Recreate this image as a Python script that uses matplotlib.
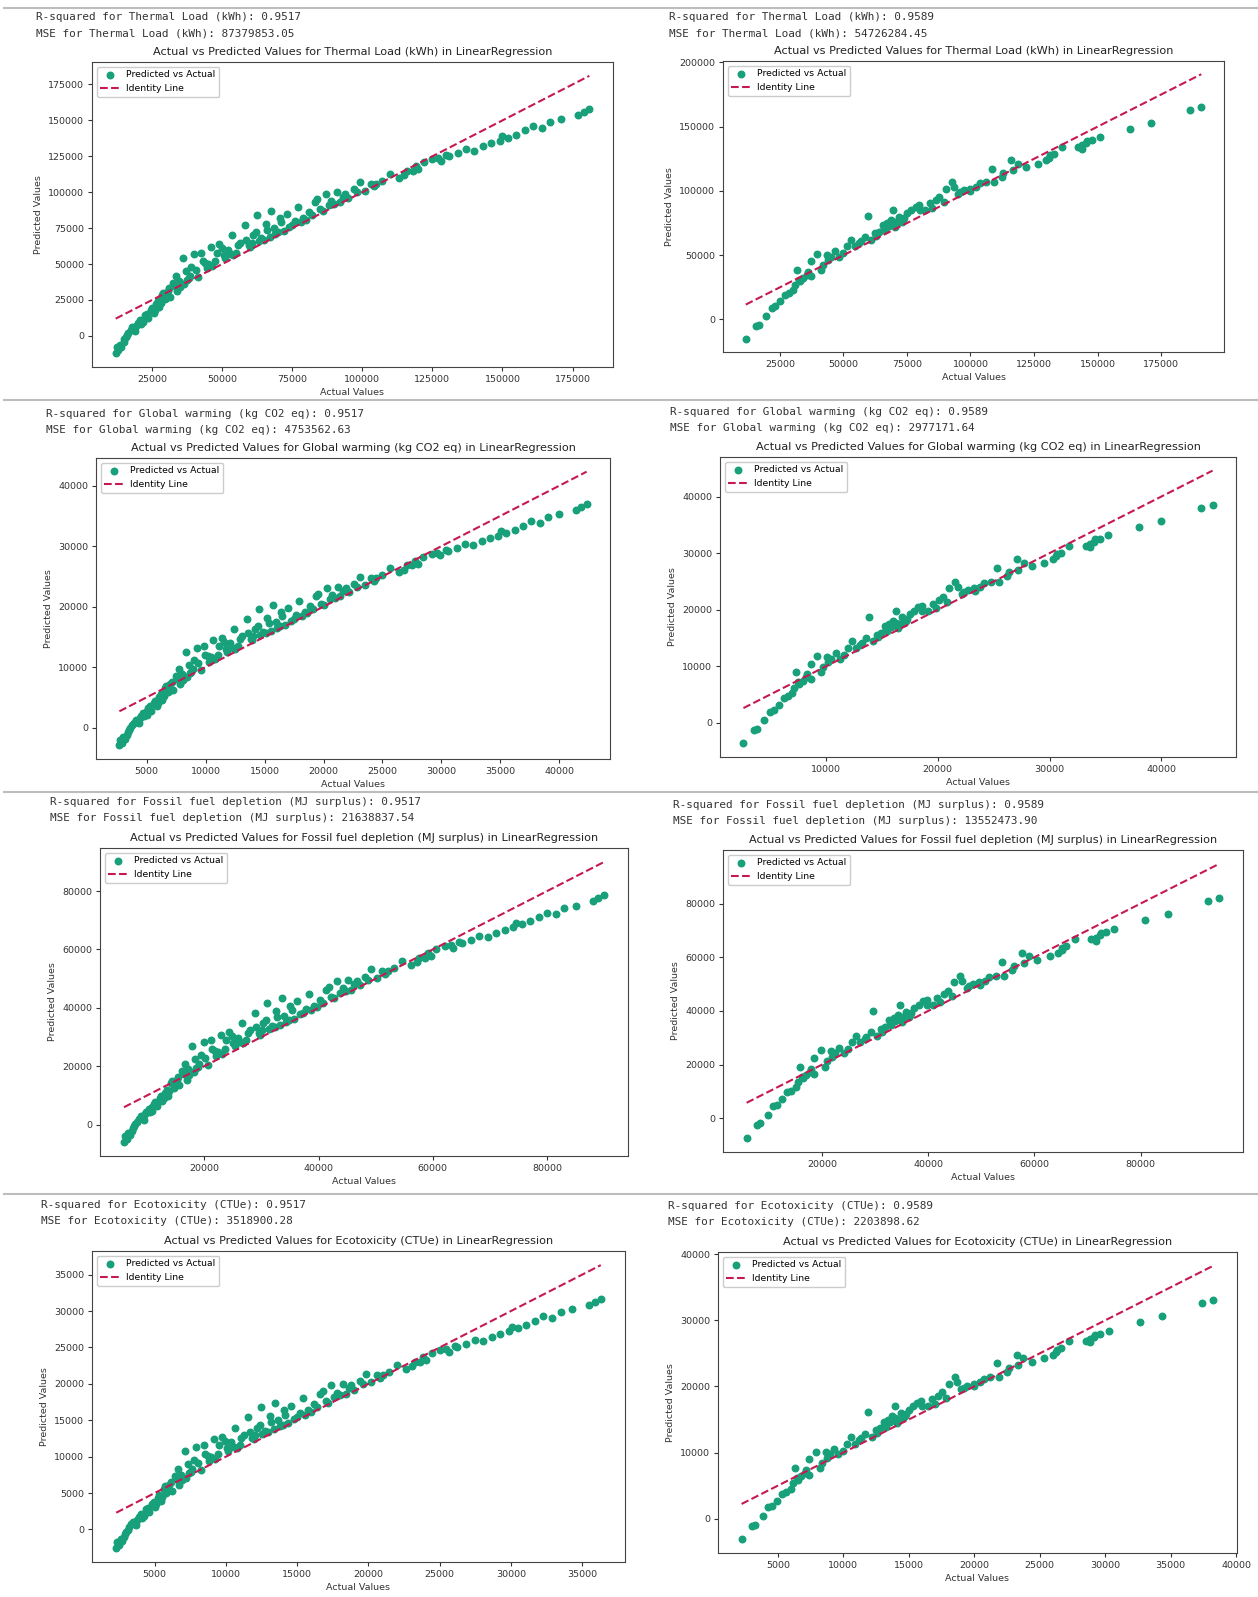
import numpy as np
import matplotlib
matplotlib.use("Agg")
import matplotlib.pyplot as plt

# figure size in pixels (dpi 100)
W, H = 1258, 1597

targets = ["Thermal Load (kWh)", "Global warming (kg CO2 eq)",
           "Fossil fuel depletion (MJ surplus)", "Ecotoxicity (CTUe)"]
r2_first = [0.9517, 0.9517, 0.9517, 0.9517]
r2_second = [0.9589, 0.9589, 0.9589, 0.9589]
mse_first = ["87379853.05", "4753562.63", "21638837.54", "3518900.28"]
mse_second = ["54726284.45", "2977171.64", "13552473.90", "2203898.62"]

# ---- first run (left column) ----
thermal_act_1 = [12000, 12300, 13500, 14800, 15600, 16500, 17300, 18000, 19000, 19800, 20700, 21800, 22500, 23500, 24500, 25500, 26500, 27500, 28000, 28500, 29500, 30500, 31500, 32500, 33500, 34000, 35000, 36000, 37500, 38000, 39000, 40000, 41500, 43000, 44500, 45000, 46000, 47500, 49000, 50500, 52000, 53500, 54000, 55000, 56500, 58000, 59500, 60000, 61000, 62500, 64000, 65000, 66000, 67500, 69000, 70000, 71000, 73000, 75000, 77000, 79000, 80000, 81000, 83000, 85000, 87000, 88000, 89000, 91000, 92000, 93000, 95000, 97000, 99000, 101000, 103000, 104000, 107000, 110000, 113000, 115000, 116000, 119000, 120000, 122000, 125000, 128000, 130000, 131000, 134000, 137000, 140000, 143000, 146000, 149000, 150000, 152000, 155000, 158000, 161000, 164000, 167000, 171000, 177000, 179000, 181000,
                 13000, 14000, 15000, 16000, 18500, 19300, 21000, 22000, 23000, 25000, 26000, 27000, 29000, 30000, 31000, 33000, 34500, 36500, 37000, 38500, 40500, 42500, 44000, 46500, 48000, 50000, 51000, 53000, 55500, 58500, 60500, 62000, 63000, 65500, 67000, 68500, 70500, 72000, 74000, 76000, 78000, 82000, 84000, 86000, 90000, 94000, 98000, 105000, 118000, 127000]
thermal_pred_1 = [-12000, -8000, -6000, -4500, -1000, 2000, 4000, 6000, 3500, 9000, 11000, 9500, 14500, 12500, 18000, 16000, 22000, 20000, 23000, 28500, 25500, 31000, 27000, 37000, 42000, 31000, 34000, 54000, 39000, 40000, 48000, 57000, 41000, 52000, 47000, 50000, 62000, 52000, 64000, 56000, 60000, 70000, 56000, 58000, 65000, 77000, 63000, 62000, 70000, 84000, 68000, 67000, 74000, 87000, 71000, 72000, 79000, 85000, 77000, 90000, 82000, 81000, 86000, 93000, 88000, 99000, 91000, 94000, 100000, 93000, 97000, 96000, 102000, 107000, 101000, 106000, 104000, 108000, 113000, 110000, 112000, 115000, 118000, 116000, 121000, 123000, 122000, 126000, 125000, 127000, 130000, 129000, 132000, 134000, 136000, 139000, 138000, 140000, 143000, 146000, 145000, 149000, 151000, 154000, 156000, 158000,
                  -10000, -7500, -2500, 500, 4500, 7000, 8500, 12000, 15500, 19500, 18000, 24000, 30000, 26500, 33000, 35000, 38000, 36000, 45000, 42000, 46000, 58000, 51000, 49000, 58000, 61000, 54000, 57000, 63000, 67000, 65000, 72000, 66000, 78000, 69000, 75000, 82000, 73000, 76000, 80000, 79000, 84000, 95000, 87000, 92000, 99000, 100000, 106000, 115000, 124000]

gw_act_1 = [2700, 2770, 3050, 3360, 3540, 3750, 3940, 4110, 4340, 4530, 4740, 5000, 5160, 5390, 5630, 5860, 6100, 6330, 6450, 6570, 6800, 7030, 7270, 7500, 7740, 7850, 8090, 8320, 8670, 8790, 9030, 9260, 9610, 9960, 10310, 10430, 10670, 11020, 11370, 11720, 12070, 12420, 12540, 12770, 13130, 13480, 13830, 13950, 14180, 14530, 14880, 15120, 15350, 15700, 16050, 16290, 16520, 16990, 17460, 17930, 18400, 18630, 18870, 19330, 19800, 20270, 20510, 20740, 21210, 21440, 21680, 22150, 22620, 23080, 23550, 24020, 24260, 24960, 25660, 26360, 26830, 27070, 27770, 28000, 28470, 29180, 29880, 30350, 30580, 31280, 31990, 32690, 33390, 34100, 34800, 35030, 35500, 36200, 36910, 37610, 38310, 39020, 39950, 41360, 41830, 42300,
            2930, 3170, 3400, 3640, 4220, 4410, 4810, 5040, 5280, 5750, 5980, 6210, 6680, 6920, 7150, 7620, 7970, 8440, 8560, 8910, 9380, 9850, 10200, 10780, 11130, 11600, 11840, 12310, 12890, 13590, 14060, 14410, 14650, 15230, 15590, 15940, 16410, 16760, 17230, 17700, 18160, 19100, 19570, 20040, 20980, 21910, 22850, 24490, 27540, 29640]
gw_pred_1 = [-2920, -1990, -1520, -1170, -350, 360, 830, 1290, 710, 2000, 2470, 2110, 3290, 2820, 4110, 3640, 5040, 4570, 5280, 6570, 5860, 7150, 6210, 8560, 9730, 7150, 7850, 12540, 9030, 9260, 11130, 13240, 9490, 12070, 10900, 11600, 14410, 12070, 14880, 13010, 13950, 16290, 13010, 13480, 15120, 17930, 14650, 14410, 16290, 19570, 15820, 15590, 17230, 20270, 16520, 16760, 18400, 19800, 17930, 20980, 19100, 18870, 20040, 21680, 20510, 23080, 21210, 21910, 23320, 21680, 22620, 22380, 23790, 24960, 23550, 24720, 24260, 25190, 26360, 25660, 26130, 26830, 27540, 27070, 28240, 28710, 28470, 29410, 29180, 29640, 30350, 30110, 30820, 31280, 31750, 32460, 32220, 32690, 33390, 34100, 33860, 34800, 35270, 35970, 36440, 36910,
             -2460, -1870, -700, 10, 940, 1530, 1880, 2700, 3520, 4460, 4110, 5510, 6920, 6100, 7620, 8090, 8790, 8320, 10430, 9730, 10670, 13480, 11840, 11370, 13480, 14180, 12540, 13240, 14650, 15590, 15120, 16760, 15350, 18160, 16050, 17460, 19100, 16990, 17700, 18630, 18400, 19570, 22150, 20270, 21440, 23080, 23320, 24720, 26830, 28940]

fossil_act_1 = [5960, 6110, 6710, 7360, 7750, 8200, 8600, 8950, 9440, 9840, 10290, 10830, 11180, 11680, 12180, 12670, 13170, 13670, 13920, 14160, 14660, 15160, 15660, 16150, 16650, 16900, 17400, 17890, 18640, 18890, 19380, 19880, 20630, 21370, 22120, 22370, 22860, 23610, 24350, 25100, 25840, 26590, 26840, 27340, 28080, 28830, 29570, 29820, 30320, 31060, 31810, 32310, 32800, 33550, 34290, 34790, 35290, 36280, 37280, 38270, 39260, 39760, 40260, 41250, 42250, 43240, 43740, 44230, 45230, 45720, 46220, 47220, 48210, 49200, 50200, 51190, 51690, 53180, 54670, 56160, 57160, 57650, 59140, 59640, 60630, 62130, 63620, 64610, 65110, 66600, 68090, 69580, 71070, 72560, 74050, 74550, 75540, 77040, 78530, 80020, 81510, 83000, 84990, 87970, 88960, 89960,
                6460, 6960, 7460, 7950, 9190, 9590, 10440, 10930, 11430, 12430, 12920, 13420, 14410, 14910, 15410, 16400, 17150, 18140, 18390, 19130, 20130, 21120, 21870, 23110, 23860, 24850, 25350, 26340, 27580, 29070, 30070, 30810, 31310, 32550, 33300, 34040, 35040, 35780, 36780, 37770, 38770, 40750, 41750, 42740, 44730, 46720, 48710, 52190, 58650, 63120]
fossil_pred_1 = [-5960, -3980, -2980, -2240, -500, 990, 1990, 2980, 1740, 4470, 5470, 4720, 7210, 6210, 8950, 7950, 10930, 9940, 11430, 14160, 12670, 15410, 13420, 18390, 20870, 15410, 16900, 26840, 19380, 19880, 23860, 28330, 20380, 25840, 23360, 24850, 30810, 25840, 31810, 27830, 29820, 34790, 27830, 28830, 32310, 38270, 31310, 30810, 34790, 41750, 33800, 33300, 36780, 43240, 35290, 35780, 39260, 42250, 38270, 44730, 40750, 40260, 42740, 46220, 43740, 49200, 45230, 46720, 49700, 46220, 48210, 47710, 50690, 53180, 50200, 52680, 51690, 53680, 56160, 54670, 55660, 57160, 58650, 57650, 60140, 61130, 60630, 62620, 62130, 63120, 64610, 64110, 65600, 66600, 67590, 69080, 68590, 69580, 71070, 72560, 72070, 74050, 75050, 76540, 77530, 78530,
                 -4970, -3730, -1240, 250, 2240, 3480, 4220, 5960, 7700, 9690, 8950, 11930, 14910, 13170, 16400, 17400, 18890, 17890, 22370, 20870, 22860, 28830, 25350, 24350, 28830, 30320, 26840, 28330, 31310, 33300, 32310, 35780, 32800, 38770, 34290, 37280, 40750, 36280, 37770, 39760, 39260, 41750, 47220, 43240, 45720, 49200, 49700, 52680, 57160, 61630]

eco_act_1 = [2300, 2360, 2600, 2860, 3020, 3210, 3370, 3510, 3710, 3870, 4050, 4270, 4410, 4610, 4820, 5020, 5220, 5420, 5520, 5620, 5820, 6020, 6220, 6430, 6630, 6730, 6930, 7130, 7430, 7530, 7730, 7930, 8240, 8540, 8840, 8940, 9140, 9440, 9740, 10050, 10350, 10650, 10750, 10950, 11250, 11560, 11860, 11960, 12160, 12460, 12760, 12960, 13170, 13470, 13770, 13970, 14170, 14570, 14980, 15380, 15780, 15980, 16180, 16590, 16990, 17390, 17590, 17790, 18200, 18400, 18600, 19000, 19400, 19800, 20210, 20610, 20810, 21410, 22020, 22620, 23020, 23230, 23830, 24030, 24430, 25040, 25640, 26040, 26240, 26850, 27450, 28050, 28660, 29260, 29870, 30070, 30470, 31070, 31680, 32280, 32880, 33490, 34290, 35500, 35900, 36300,
             2500, 2700, 2900, 3110, 3610, 3770, 4110, 4310, 4510, 4920, 5120, 5320, 5720, 5920, 6120, 6530, 6830, 7230, 7330, 7630, 8030, 8440, 8740, 9240, 9540, 9950, 10150, 10550, 11050, 11660, 12060, 12360, 12560, 13060, 13370, 13670, 14070, 14370, 14780, 15180, 15580, 16380, 16790, 17190, 17990, 18800, 19600, 21010, 23630, 25440]
eco_pred_1 = [-2530, -1720, -1320, -1020, -320, 290, 690, 1090, 590, 1700, 2100, 1800, 2800, 2400, 3510, 3110, 4310, 3910, 4510, 5620, 5020, 6120, 5320, 7330, 8340, 6120, 6730, 10750, 7730, 7930, 9540, 11350, 8140, 10350, 9340, 9950, 12360, 10350, 12760, 11150, 11960, 13970, 11150, 11560, 12960, 15380, 12560, 12360, 13970, 16790, 13570, 13370, 14780, 17390, 14170, 14370, 15780, 16990, 15380, 17990, 16380, 16180, 17190, 18600, 17590, 19800, 18200, 18800, 20010, 18600, 19400, 19200, 20410, 21410, 20210, 21210, 20810, 21620, 22620, 22020, 22420, 23020, 23630, 23230, 24230, 24630, 24430, 25240, 25040, 25440, 26040, 25840, 26440, 26850, 27250, 27850, 27650, 28050, 28660, 29260, 29060, 29870, 30270, 30870, 31270, 31680,
              -2130, -1620, -620, -10, 790, 1290, 1600, 2300, 3000, 3810, 3510, 4710, 5920, 5220, 6530, 6930, 7530, 7130, 8940, 8340, 9140, 11560, 10150, 9740, 11560, 12160, 10750, 11350, 12560, 13370, 12960, 14370, 13170, 15580, 13770, 14980, 16380, 14570, 15180, 15980, 15780, 16790, 19000, 17390, 18400, 19800, 20010, 21210, 23020, 24830]

# ---- second run (right column) ----
thermal_act_2 = [11600, 15500, 16800, 19600, 21800, 23100, 25000, 27000, 28600, 30200, 31000, 31800, 32600, 33000, 34200, 35700, 36000, 37300, 37300, 39700, 41300, 42000, 43600, 44000, 45200, 46800, 48400, 50000, 51500, 53100, 54700, 56300, 57000, 58600, 59700, 61000, 62600, 63000, 64200, 65700, 66000, 66500, 67300, 68000, 68900, 69700, 70000, 70500, 71000, 72000, 73000, 73600, 74000, 75200, 76800, 78400, 79900, 80000, 82300, 83900, 85000, 86300, 87800, 89400, 90200, 92600, 93400, 95000, 96000, 97300, 99700, 100000, 102000, 103600, 106000, 108400, 109200, 112300, 113000, 116000, 116600, 118600, 121800, 126500, 129700, 131000, 131300, 132800, 136000, 142300, 143900, 144000, 145400, 146000, 147800, 151000, 162800, 171200, 186500, 190800]
thermal_pred_2 = [-15000, -5200, -3900, 2600, 9000, 10300, 14200, 19400, 20600, 23200, 27000, 38700, 31000, 30000, 32300, 34800, 37000, 45200, 33500, 50800, 38700, 42600, 50300, 46000, 49000, 52900, 49000, 51600, 56800, 62000, 56800, 59400, 61000, 64500, 80500, 62000, 67000, 65000, 68400, 73500, 71000, 69700, 74800, 73000, 77400, 85200, 76000, 72300, 75000, 80000, 76000, 77400, 79000, 82600, 85200, 87700, 89000, 85000, 85200, 90300, 87000, 92900, 95500, 91600, 101900, 107000, 103200, 98000, 99000, 100600, 101900, 100000, 103200, 105800, 107000, 117400, 107000, 111000, 114000, 123900, 116100, 121300, 118700, 121300, 123900, 126000, 127700, 129000, 134200, 134200, 135500, 133000, 137300, 139000, 139400, 141900, 148400, 152800, 162600, 165200]

gw_act_2 = [2610, 3520, 3820, 4480, 5000, 5300, 5750, 6210, 6590, 6960, 7150, 7340, 7530, 7620, 7900, 8250, 8320, 8630, 8630, 9190, 9560, 9730, 10100, 10200, 10480, 10850, 11230, 11600, 11950, 12330, 12700, 13080, 13240, 13620, 13880, 14180, 14560, 14650, 14930, 15280, 15350, 15470, 15660, 15820, 16030, 16220, 16290, 16410, 16520, 16760, 16990, 17130, 17230, 17510, 17880, 18260, 18610, 18630, 19170, 19550, 19800, 20110, 20460, 20830, 21020, 21580, 21770, 22150, 22380, 22690, 23250, 23320, 23790, 24160, 24720, 25290, 25470, 26200, 26360, 27070, 27210, 27680, 28430, 29530, 30280, 30580, 30650, 31000, 31750, 33230, 33600, 33630, 33960, 34100, 34520, 35270, 38030, 40000, 43590, 44590]
gw_pred_2 = [-3630, -1330, -1030, 500, 2000, 2300, 3220, 4430, 4710, 5320, 6210, 8960, 7150, 6920, 7460, 8040, 8560, 10480, 7740, 11790, 8960, 9870, 11670, 10670, 11370, 12280, 11370, 11980, 13200, 14410, 13200, 13810, 14180, 15000, 18750, 14410, 15590, 15120, 15910, 17110, 16520, 16220, 17410, 16990, 18020, 19850, 17700, 16830, 17460, 18630, 17700, 18020, 18400, 19240, 19850, 20440, 20740, 19800, 19850, 21050, 20270, 21650, 22260, 21350, 23760, 24960, 24070, 22850, 23080, 23460, 23760, 23320, 24070, 24680, 24960, 27400, 24960, 25900, 26600, 28920, 27090, 28310, 27700, 28310, 28920, 29410, 29810, 30110, 31330, 31330, 31640, 31050, 32060, 32460, 32550, 33140, 34660, 35690, 37990, 38590]

fossil_act_2 = [5770, 7700, 8350, 9740, 10830, 11480, 12430, 13420, 14210, 15010, 15410, 15800, 16200, 16400, 17000, 17740, 17890, 18540, 18540, 19730, 20530, 20870, 21670, 21870, 22460, 23260, 24050, 24850, 25600, 26390, 27190, 27980, 28330, 29120, 29670, 30320, 31110, 31310, 31910, 32650, 32800, 33050, 33450, 33800, 34240, 34640, 34790, 35040, 35290, 35780, 36280, 36580, 36780, 37370, 38170, 38960, 39710, 39760, 40900, 41700, 42250, 42890, 43640, 44430, 44830, 46020, 46420, 47220, 47710, 48360, 49550, 49700, 50690, 51490, 52680, 53870, 54270, 55810, 56160, 57650, 57950, 58940, 60530, 62870, 64460, 65110, 65260, 66000, 67590, 70720, 71520, 71570, 72260, 72560, 73460, 75050, 80910, 85090, 92690, 94830]
fossil_pred_2 = [-7460, -2580, -1940, 1290, 4470, 5120, 7060, 9640, 10240, 11530, 13420, 19230, 15410, 14910, 16050, 17300, 18390, 22460, 16650, 25250, 19230, 21170, 25000, 22860, 24350, 26290, 24350, 25650, 28230, 30810, 28230, 29520, 30320, 32060, 40010, 30810, 33300, 32310, 33990, 36530, 35290, 34640, 37180, 36280, 38470, 42340, 37770, 35930, 37280, 39760, 37770, 38470, 39260, 41050, 42340, 43590, 44230, 42250, 42340, 44880, 43240, 46170, 47460, 45530, 50640, 53180, 51290, 48710, 49200, 50000, 50640, 49700, 51290, 52580, 53180, 58350, 53180, 55170, 56660, 61580, 57700, 60290, 58990, 60290, 61580, 62620, 63470, 64110, 66700, 66700, 67340, 66100, 68240, 69080, 69280, 70520, 73750, 75940, 80810, 82100]

eco_act_2 = [2220, 3000, 3270, 3830, 4270, 4530, 4920, 5320, 5640, 5960, 6120, 6280, 6450, 6530, 6770, 7070, 7130, 7390, 7390, 7870, 8200, 8340, 8660, 8740, 8980, 9300, 9620, 9950, 10250, 10570, 10890, 11210, 11350, 11680, 11900, 12160, 12480, 12560, 12800, 13100, 13170, 13270, 13430, 13570, 13750, 13910, 13970, 14070, 14170, 14370, 14570, 14690, 14780, 15020, 15340, 15660, 15960, 15980, 16440, 16770, 16990, 17250, 17550, 17870, 18030, 18520, 18680, 19000, 19200, 19460, 19950, 20010, 20410, 20730, 21210, 21700, 21860, 22480, 22620, 23230, 23350, 23750, 24390, 25340, 25980, 26240, 26300, 26610, 27250, 28520, 28840, 28860, 29140, 29260, 29620, 30270, 32640, 34330, 37410, 38270]
eco_pred_2 = [-3130, -1160, -900, 410, 1700, 1960, 2740, 3790, 4030, 4550, 5320, 7670, 6120, 5920, 6380, 6890, 7330, 8980, 6630, 10110, 7670, 8460, 10010, 9140, 9740, 10530, 9740, 10270, 11310, 12360, 11310, 11840, 12160, 12860, 16080, 12360, 13370, 12960, 13650, 14670, 14170, 13910, 14940, 14570, 15460, 17030, 15180, 14430, 14980, 15980, 15180, 15460, 15780, 16510, 17030, 17530, 17790, 16990, 17030, 18050, 17390, 18580, 19100, 18320, 20390, 21410, 20650, 19600, 19800, 20130, 20390, 20010, 20650, 21170, 21410, 23510, 21410, 22220, 22820, 24810, 23250, 24290, 23770, 24290, 24810, 25240, 25580, 25840, 26890, 26890, 27150, 26650, 27510, 27850, 27930, 28440, 29740, 30630, 32600, 33120]

actual_1 = [thermal_act_1, gw_act_1, fossil_act_1, eco_act_1]
pred_1 = [thermal_pred_1, gw_pred_1, fossil_pred_1, eco_pred_1]
actual_2 = [thermal_act_2, gw_act_2, fossil_act_2, eco_act_2]
pred_2 = [thermal_pred_2, gw_pred_2, fossil_pred_2, eco_pred_2]

# axes boxes in pixels: left, right, top, bottom ; text anchor x, y of first line
boxes_left = [(92, 613, 62, 367, 36, 17), (96, 610, 458, 759, 46, 414),
              (100, 628, 848, 1156, 50, 802), (92, 625, 1251, 1562, 41, 1205)]
boxes_right = [(723, 1224, 61, 352, 669, 17), (720, 1236, 457, 757, 670, 412),
               (723, 1243, 850, 1152, 673, 805), (718, 1237, 1252, 1553, 668, 1206)]
separators = [8, 400, 792, 1194]

GREEN = "#17a07a"
CRIMSON = "#c51a50"
TXT = "#333333"

fig = plt.figure(figsize=(W / 100, H / 100), dpi=100)
fig.patch.set_facecolor("white")


def draw_panel(box, target, r2, mse, actual, predicted):
    l, r, t, b, tx, ty = box
    fig.text(tx / W, 1 - ty / H, f"R-squared for {target}: {r2:.4f}",
             family="DejaVu Sans Mono", fontsize=7.9, color=TXT, va="center")
    fig.text(tx / W, 1 - (ty + 16) / H, f"MSE for {target}: {mse}",
             family="DejaVu Sans Mono", fontsize=7.9, color=TXT, va="center")
    ax = fig.add_axes([l / W, 1 - b / H, (r - l) / W, (b - t) / H])
    ax.scatter(actual, predicted, color=GREEN, s=22, label="Predicted vs Actual")
    lo, hi = min(actual), max(actual)
    ax.plot([lo, hi], [lo, hi], "--", color=CRIMSON, lw=1.5, label="Identity Line")
    ax.set_title(f"Actual vs Predicted Values for {target} in LinearRegression",
                 fontsize=8.1, pad=5, color="#222222")
    ax.set_xlabel("Actual Values", fontsize=6.8, color=TXT, labelpad=3)
    ax.set_ylabel("Predicted Values", fontsize=6.8, color=TXT, labelpad=4)
    ax.tick_params(labelsize=6.8, colors=TXT, length=3, pad=2.5)
    for sp in ax.spines.values():
        sp.set_color("#444444")
    ax.legend(loc="upper left", fontsize=6.7, framealpha=1)
    return ax


for i in range(4):
    draw_panel(boxes_left[i], targets[i], r2_first[i], mse_first[i], actual_1[i], pred_1[i])
    draw_panel(boxes_right[i], targets[i], r2_second[i], mse_second[i], actual_2[i], pred_2[i])

# thin rules between the output cells
for y in separators:
    fig.add_artist(plt.Line2D([4 / W, 1], [1 - y / H, 1 - y / H], color="#bdbdbd", lw=1.5))

fig.savefig("out.png", dpi=100)
